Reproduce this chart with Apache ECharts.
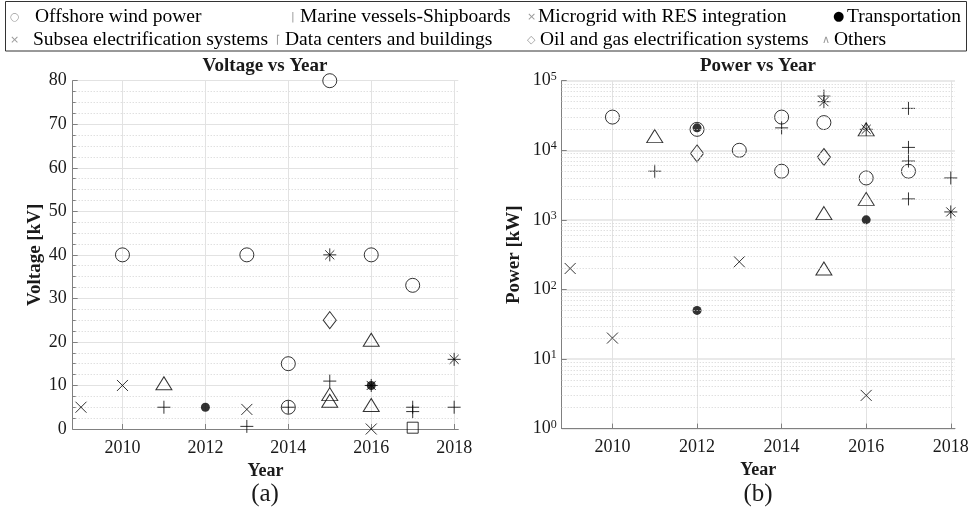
<!DOCTYPE html>
<html><head><meta charset="utf-8">
<script src="https://cdn.jsdelivr.net/npm/echarts@6/dist/echarts.min.js"></script>
<style>html,body{margin:0;padding:0;background:#fff}#c{width:969px;height:512px}</style>
</head><body><div id="c"></div>
<script>
// ---------- data ----------
const categories = [
  'Offshore wind power', 'Marine vessels-Shipboards', 'Microgrid with RES integration', 'Transportation',
  'Subsea electrification systems', 'Data centers and buildings', 'Oil and gas electrification systems', 'Others'
];
const legendGlyphs = ['\u25CB', '|', '\u00D7', '\u25CF', '\u00D7', '\u2308', '\u25C7', '\u2227'];
const yearLabels = ['2010', '2012', '2014', '2016', '2018'];
const voltageLabels = ['0','10','20','30','40','50','60','70','80'];
const powerExponents = ['0','1','2','3','4','5'];

// Voltage [kV] by year
const offshoreV   = [[2010,40],[2013,40],[2014,15],[2014,5],[2015,80],[2016,40],[2017,33]];
const marineV     = [[2011,5],[2013,0.6],[2014,5],[2015,11],[2017,5],[2017,4],[2018,5]];
const microgridV  = [[2015,40],[2016,10],[2018,16]];
const transportV  = [[2012,5],[2016,10]];
const subseaV     = [[2009,5],[2010,10],[2013,4.5],[2016,0]];
const dataCenterV = [[2017,0.3]];
const oilGasV     = [[2015,25]];
const othersV     = [[2011,10.5],[2015,8],[2015,6.5],[2016,20.5],[2016,5.5]];

// Power [kW] by year
const offshoreP   = [[2010,30000],[2012,20000],[2013,10000],[2014,30000],[2014,5000],[2015,25000],[2016,4000],[2017,5000]];
const marineP     = [[2011,5000],[2014,21000],[2015,60000],[2017,40000],[2017,11000],[2017,7000],[2017,2000],[2018,4000]];
const microgridP  = [[2015,50000],[2016,20000],[2018,1300]];
const transportP  = [[2012,21000],[2012,50],[2016,1000]];
const subseaP     = [[2009,200],[2010,20],[2013,250],[2016,3]];
const dataCenterP = [];
const oilGasP     = [[2012,9000],[2015,8000]];
const othersP     = [[2011,16000],[2015,1250],[2015,200],[2016,20000],[2016,2000]];

const voltageSets = [offshoreV, marineV, microgridV, transportV, subseaV, dataCenterV, oilGasV, othersV];
const powerSets   = [offshoreP, marineP, microgridP, transportP, subseaP, dataCenterP, oilGasP, othersP];

// ---------- styles ----------
const FONT = 'Liberation Serif';
const AXIS_C = '#808080';
const GRID_C = '#e2e2e2';
const MINOR_C = '#d2d2d2';
const TXT = '#1a1a1a';

const PLUS = 'path://M0,5L10,5M5,0L5,10';
const CROSS = 'path://M0,0L10,10M10,0L0,10';
const STAR = 'path://M0,5L10,5M5,0L5,10M1.5,1.5L8.5,8.5M8.5,1.5L1.5,8.5';
const hollow = {color:'rgba(0,0,0,0)', borderColor:'#000', borderWidth:1};
const markerStyles = [
  {symbol:'circle', size:14, style:hollow, z:2},
  {symbol:PLUS, size:13, style:hollow, z:3},
  {symbol:STAR, size:13, style:hollow, z:3},
  {symbol:'circle', size:9, style:{color:'#000', borderWidth:0}, z:4},
  {symbol:CROSS, size:11, style:hollow, z:3},
  {symbol:'rect', size:11, style:hollow, z:2},
  {symbol:'diamond', size:[13,17], style:hollow, z:2},
  {symbol:'triangle', size:[16,13], style:hollow, z:2}
];

// legend item layout (glyph left x, glyph slot width, row top)
const legendPos = [
  [5, 25, 6], [286, 9, 6], [522, 11, 6], [828, 14, 6],
  [5, 23, 29], [271, 9, 29], [522, 13, 29], [817, 12, 29]
];

function xAxisCfg(gi) {
  return {
    gridIndex: gi, type: 'value', min: 2008.8, max: 2018.1, splitNumber: 5,
    axisLine: {show: true, onZero: false, lineStyle: {color: AXIS_C}},
    axisTick: {show: true, inside: true, length: 5, lineStyle: {color: AXIS_C}},
    axisLabel: {showMinLabel: false, showMaxLabel: false, fontFamily: FONT, fontSize: 18, color: TXT, margin: 10,
      formatter: v => { const s = String(Math.round(v)); return (Math.abs(v - Math.round(v)) < 1e-6 && yearLabels.includes(s)) ? s : ''; }},
    splitLine: {show: true, showMinLine: false, showMaxLine: false, lineStyle: {color: GRID_C}},
    name: 'Year', nameLocation: 'middle', nameGap: 30,
    nameTextStyle: {fontFamily: FONT, fontWeight: 'bold', fontSize: 18, color: TXT}
  };
}

const series = [];
categories.forEach((name, i) => {
  const m = markerStyles[i];
  const base = {type: 'scatter', name, symbol: m.symbol, symbolSize: m.size, itemStyle: m.style, z: m.z,
    silent: true, emphasis: {disabled: true}, animation: false};
  series.push(Object.assign({}, base, {xAxisIndex: 0, yAxisIndex: 0, data: voltageSets[i]}));
  series.push(Object.assign({}, base, {xAxisIndex: 1, yAxisIndex: 1, data: powerSets[i]}));
});

// minor log gridlines (2..9 x 10^k)
const minorLog = [];
for (let k = 0; k < 5; k++) for (let d = 2; d <= 9; d++) minorLog.push(d * Math.pow(10, k));
series.push({
  type: 'scatter', name: '_minor', xAxisIndex: 1, yAxisIndex: 1, data: [], silent: true, z: 0, animation: false,
  markLine: {silent: true, symbol: ['none', 'none'], label: {show: false}, animation: false,
    lineStyle: {color: MINOR_C, type: [1, 2], width: 1}, emphasis: {disabled: true},
    data: minorLog.map(v => ({yAxis: v}))}
});

const legends = categories.map((name, i) => {
  const [x, gw, top] = legendPos[i];
  const dark = i === 3;
  return {
    data: [name], left: x, top: top, icon: 'none', itemWidth: 0, itemHeight: 22, padding: 0, itemGap: 0,
    selectedMode: false,
    formatter: n => '{g|' + legendGlyphs[i] + '}{t|' + n + '}',
    textStyle: {rich: {
      g: {width: gw, fontSize: dark ? 13 : 11, color: dark ? '#000' : '#9a9a9a', fontFamily: 'DejaVu Sans'},
      t: {fontFamily: FONT, fontSize: 19.5, color: '#000', lineHeight: 22}
    }}
  };
});

const option = {
  backgroundColor: '#fff',
  animation: false,
  legend: legends,
  grid: [
    {left: 72.7, top: 80.7, width: 385.6, height: 348.3, outerBoundsMode: 'none'},
    {left: 561.7, top: 80.7, width: 393.3, height: 347.9, outerBoundsMode: 'none'}
  ],
  xAxis: [xAxisCfg(0), xAxisCfg(1)],
  yAxis: [
    {gridIndex: 0, type: 'value', min: 0, max: 80, interval: 10,
      axisLine: {show: true, lineStyle: {color: AXIS_C}},
      axisTick: {show: true, inside: true, length: 5, lineStyle: {color: AXIS_C}},
      minorTick: {show: true, splitNumber: 4, length: 3, lineStyle: {color: AXIS_C}},
      minorSplitLine: {show: true, lineStyle: {color: MINOR_C, type: [1, 2]}},
      splitLine: {show: true, lineStyle: {color: GRID_C}},
      axisLabel: {fontFamily: FONT, fontSize: 18, color: TXT, margin: 6,
        formatter: v => voltageLabels[Math.round(v / 10)] || ''},
      name: 'Voltage [kV]', nameLocation: 'middle', nameGap: 28,
      nameTextStyle: {fontFamily: FONT, fontWeight: 'bold', fontSize: 19, color: TXT}},
    {gridIndex: 1, type: 'log', logBase: 10, min: 1, max: 100000,
      axisLine: {show: true, onZero: false, lineStyle: {color: AXIS_C}},
      axisTick: {show: true, inside: true, length: 5, lineStyle: {color: AXIS_C}},
      splitLine: {show: true, lineStyle: {color: GRID_C, width: 1.5}},
      axisLabel: {margin: 5,
        formatter: v => '{b|10}{s|' + powerExponents[Math.round(Math.log10(v))] + '}',
        rich: {b: {fontFamily: FONT, fontSize: 18, color: TXT, lineHeight: 20},
               s: {fontFamily: FONT, fontSize: 12, color: TXT, verticalAlign: 'top'}}},
      name: 'Power [kW]', nameLocation: 'middle', nameGap: 38,
      nameTextStyle: {fontFamily: FONT, fontWeight: 'bold', fontSize: 19, color: TXT}}
  ],
  series: series,
  graphic: [
    {type: 'rect', silent: true, shape: {x: 5.5, y: 1.5, width: 961, height: 49.5},
      style: {fill: 'none', stroke: '#333', lineWidth: 1}},
    {type: 'text', silent: true, x: 265, y: 66, style: {text: 'Voltage vs Year', font: 'bold 19px Liberation Serif', fill: TXT, textAlign: 'center', textVerticalAlign: 'middle'}},
    {type: 'text', silent: true, x: 758, y: 66, style: {text: 'Power vs Year', font: 'bold 19px Liberation Serif', fill: TXT, textAlign: 'center', textVerticalAlign: 'middle'}},
    {type: 'text', silent: true, x: 265, y: 494, style: {text: '(a)', font: '25px Liberation Serif', fill: TXT, textAlign: 'center', textVerticalAlign: 'middle'}},
    {type: 'text', silent: true, x: 758, y: 494, style: {text: '(b)', font: '25px Liberation Serif', fill: TXT, textAlign: 'center', textVerticalAlign: 'middle'}}
  ]
};

const chart = echarts.init(document.getElementById('c'), null, {renderer: 'canvas'});
chart.setOption(option);
</script>
</body></html>
